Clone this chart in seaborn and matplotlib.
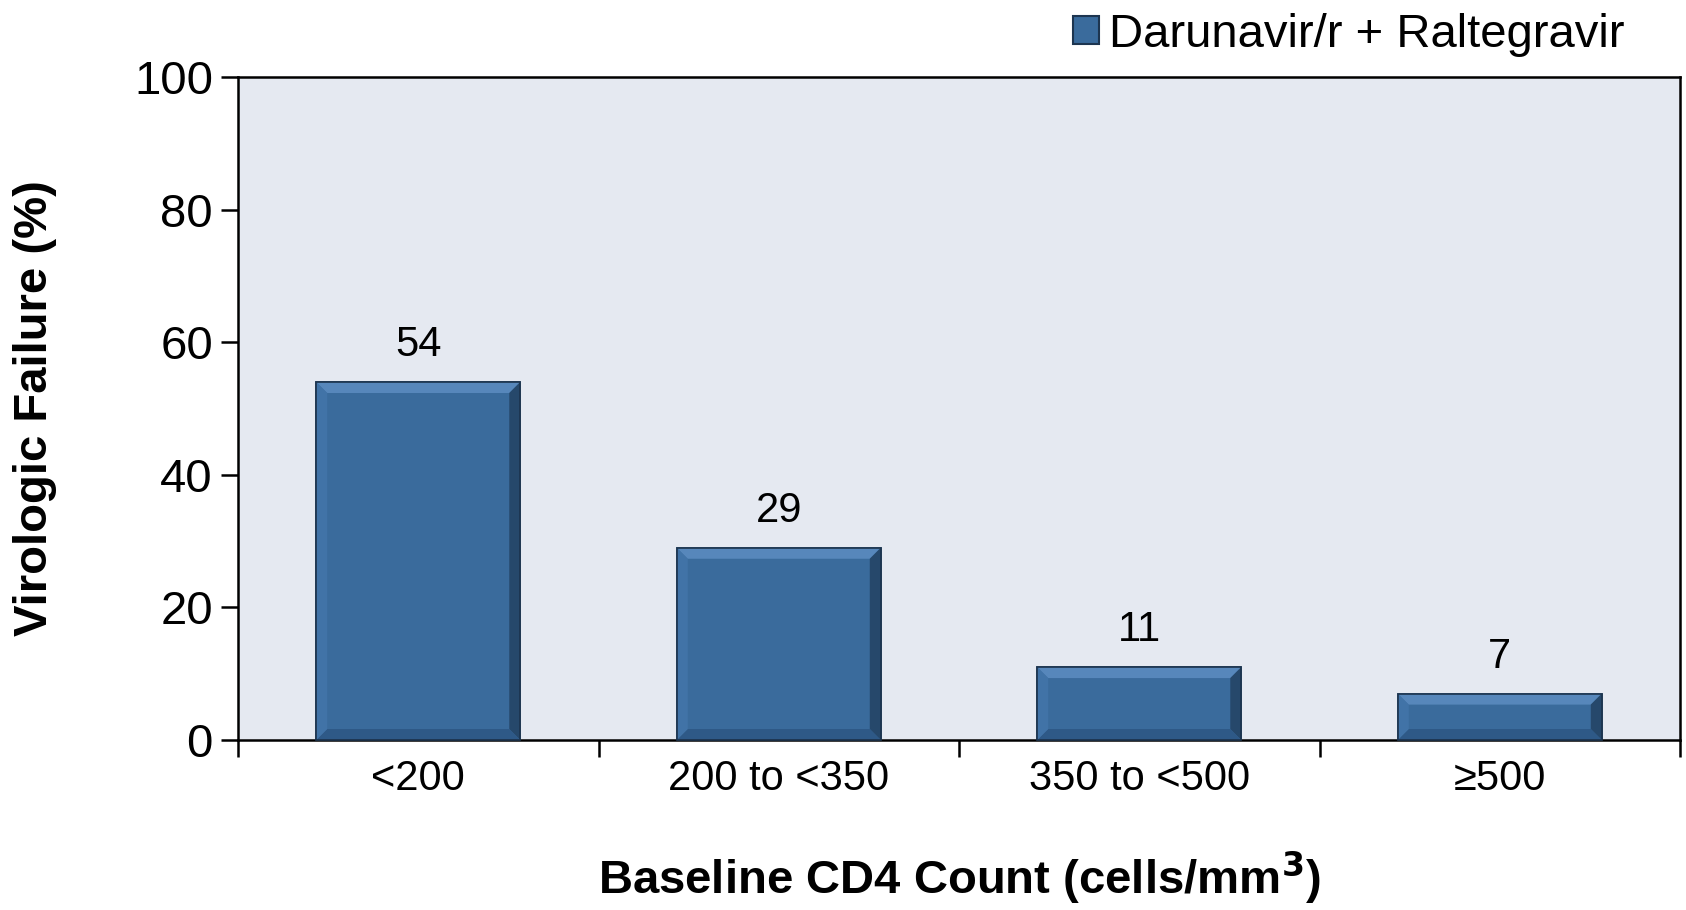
import matplotlib
matplotlib.use("Agg")
import matplotlib.pyplot as plt
import seaborn as sns
import numpy as np
import pandas as pd
from matplotlib.patches import Polygon, Patch
from matplotlib.transforms import IdentityTransform

categories = ["<200", "200 to <350", "350 to <500", "≥500"]
values = [54, 29, 11, 7]
series_name = "Darunavir/r + Raltegravir"
y_ticks = [0, 20, 40, 60, 80, 100]

sns.set_theme(style="white")
plt.rcParams['font.family'] = ['Liberation Sans', 'DejaVu Sans']
plt.rcParams['text.color'] = 'black'
plt.rcParams['axes.labelcolor'] = 'black'
plt.rcParams['xtick.color'] = 'black'
plt.rcParams['ytick.color'] = 'black'

fig = plt.figure(figsize=(16.86, 9.10), dpi=100)
ax = fig.add_axes([238/1686, 1-740/910, (1680-238)/1686, (740-77)/910])
ax.set_facecolor("#E5E9F1")

df = pd.DataFrame({"cat": categories, "val": values})
main_col = "#3A6B9C"
sns.barplot(data=df, x="cat", y="val", color=main_col, saturation=1, width=0.566,
            edgecolor="#1D3550", linewidth=1.2, ax=ax)

ax.set_xlim(-0.5, len(categories) - 0.5)
ax.set_ylim(0, 100)
ax.set_yticks(y_ticks)
ax.tick_params(axis="y", labelsize=34, length=12, width=1.8, direction="out", left=True, pad=6, colors="black")
ax.set_xticks(range(len(categories)))
ax.set_xticklabels(categories)
ax.tick_params(axis="x", which="major", labelsize=30, length=0, pad=14, colors="black")
ax.set_xticks(np.arange(-0.5, len(categories), 1.0), minor=True)
ax.tick_params(axis="x", which="minor", length=12, width=1.8, direction="out", bottom=True, colors="black")

for s in ax.spines.values():
    s.set_visible(True)
    s.set_color("black")
    s.set_linewidth(1.8)

ax.set_xlabel("Baseline CD4 Count (cells/mm$^\\mathbf{3}$)", fontsize=34, fontweight="bold", va="center")
ax.xaxis.set_label_coords(0.5, (740 - 877) / 663)
ax.set_ylabel("Virologic Failure (%)", fontsize=34, fontweight="bold", va="center")
ax.yaxis.set_label_coords((35 - 238) / 1442, 0.5)

# value labels
for p, v in zip(ax.patches, values):
    ax.annotate(f"{v}", (p.get_x() + p.get_width() / 2, p.get_height()),
                xytext=(0, 12), textcoords="offset points", ha="center", va="bottom", fontsize=30)

# bevel effect computed from bar geometry
fig.canvas.draw()
bev = 11
for p in list(ax.patches):
    x0, y0 = p.get_x(), 0
    x1, y1 = p.get_x() + p.get_width(), p.get_height()
    (px0, py0) = ax.transData.transform((x0, y0))
    (px1, py1) = ax.transData.transform((x1, y1))
    b = min(bev, (py1 - py0) / 2.2)
    polys = [
        ([(px0, py1), (px1, py1), (px1 - b, py1 - b), (px0 + b, py1 - b)], "#5F8FC4"),  # top
        ([(px1, py1), (px1, py0), (px1 - b, py0 + b), (px1 - b, py1 - b)], "#21405F"),  # right
        ([(px0, py0), (px1, py0), (px1 - b, py0 + b), (px0 + b, py0 + b)], "#2C5582"),  # bottom
        ([(px0, py0), (px0, py1), (px0 + b, py1 - b), (px0 + b, py0 + b)], "#4476AB"),  # left
    ]
    for pts, c in polys:
        poly = Polygon(pts, closed=True, facecolor=c, edgecolor="none", transform=IdentityTransform(),
                       alpha=0.8, zorder=p.get_zorder() + 0.1)
        fig.add_artist(poly)
    edge = Polygon([(px0, py0), (px1, py0), (px1, py1), (px0, py1)], closed=True, facecolor="none",
                   edgecolor="#1D3550", linewidth=1.2, transform=IdentityTransform(), zorder=p.get_zorder() + 0.2)
    fig.add_artist(edge)

handle = Patch(facecolor=main_col, edgecolor="#1D3550", linewidth=1.5)
leg = fig.legend([handle], [series_name], loc="upper right", bbox_to_anchor=(1648/1686, 1.012),
                 frameon=False, fontsize=34, handlelength=0.55, handleheight=0.55, handletextpad=0.2,
                 borderaxespad=0.1)

fig.savefig("out.png", dpi=100)
